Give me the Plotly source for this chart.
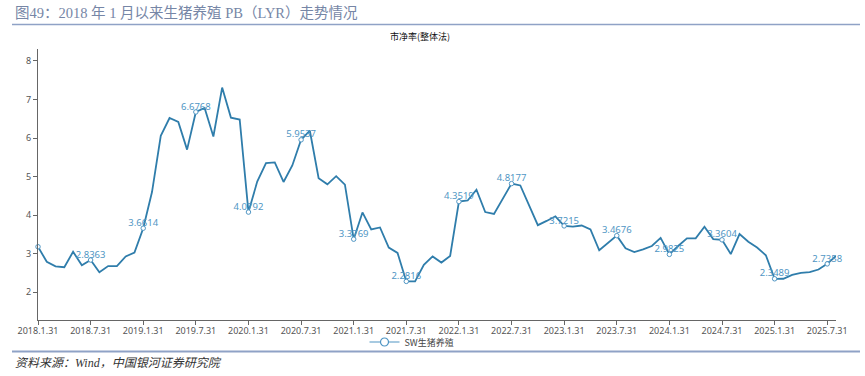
import plotly.graph_objects as go
import pandas as pd

# ---- data ----
dates = [d.strftime("%Y.%-m.%d") for d in pd.date_range("2018-01-31", periods=92, freq="ME")]
pb = [3.18, 2.79, 2.67, 2.65, 3.05, 2.70, 2.8363, 2.52, 2.68, 2.68, 2.93, 3.03,
      3.6614, 4.60, 6.06, 6.52, 6.42, 5.70, 6.6768, 6.78, 6.04, 7.31, 6.53, 6.48,
      4.0792, 4.87, 5.35, 5.37, 4.86, 5.29, 5.9537, 6.19, 4.96, 4.80, 5.01, 4.79,
      3.3769, 4.07, 3.63, 3.68, 3.16, 3.02, 2.2816, 2.28, 2.71, 2.93, 2.77, 2.94,
      4.3519, 4.38, 4.66, 4.08, 4.03, 4.42, 4.8177, 4.77, 4.26, 3.74, 3.85, 3.97,
      3.7215, 3.70, 3.73, 3.63, 3.09, 3.27, 3.4676, 3.14, 3.04, 3.11, 3.20, 3.41,
      2.9825, 3.20, 3.40, 3.40, 3.70, 3.38, 3.3604, 2.99, 3.51, 3.31, 3.16, 2.96,
      2.3489, 2.35, 2.45, 2.50, 2.52, 2.59, 2.7358, 2.94]
label_idx = list(range(0, 92, 6))          # Jan / Jul points carry markers
text_idx = list(range(6, 92, 6))           # points with value labels
tick_labels = [dates[i] for i in range(0, 92, 6)]
y_ticks = [2, 3, 4, 5, 6, 7, 8]
series_name = "SW生猪养殖"

LINE = "#2f7dab"
LBL = "#5096c4"

# plot-area geometry (pixels)
L, R, T, B = 38, 836, 49, 320
PW, PH = R - L, B - T

def px(x):
    return (x - L) / PW

def py(y):
    return (B - y) / PH

fig = go.Figure()
fig.add_trace(go.Scatter(
    x=dates, y=pb, mode="lines", line=dict(color=LINE, width=1.8),
    showlegend=False, hoverinfo="skip"))
fig.add_trace(go.Scatter(
    x=[dates[i] for i in label_idx], y=[pb[i] for i in label_idx],
    mode="markers", marker=dict(size=4.5, color="white", line=dict(color=LBL, width=1)),
    showlegend=False, cliponaxis=False))
fig.add_trace(go.Scatter(
    x=[dates[i] for i in text_idx], y=[pb[i] for i in text_idx],
    mode="text", text=[f"{pb[i]:.4f}" for i in text_idx], textposition="top center",
    textfont=dict(color=LBL, size=9.5, family="Noto Sans"), showlegend=False,
    cliponaxis=False))
fig.add_trace(go.Scatter(
    x=[None], y=[None], name=series_name, mode="lines+markers",
    line=dict(color=LBL, width=1.2),
    marker=dict(size=8, color="white", line=dict(color=LBL, width=1.2))))

ymin = min(pb) - 1
ymax = max(pb) + 1

fig.update_layout(
    width=865, height=376,
    margin=dict(l=L, r=865 - R, t=T, b=376 - B, autoexpand=False),
    paper_bgcolor="white", plot_bgcolor="white",
    font=dict(family="Noto Sans, Noto Sans CJK SC", size=9, color="#555"),
    xaxis=dict(type="category", range=[0, 91], tickmode="array",
               tickvals=tick_labels, ticktext=tick_labels, automargin=False,
               showline=True, linecolor="#666", linewidth=1,
               ticks="outside", ticklen=4, tickcolor="#666", ticklabelstandoff=-2,
               showgrid=False, zeroline=False, tickfont=dict(size=9, color="#555")),
    yaxis=dict(range=[ymin, ymax], tickvals=y_ticks, automargin=False,
               showline=True, linecolor="#666", linewidth=1,
               ticks="outside", ticklen=4, tickcolor="#666",
               showgrid=False, zeroline=False, tickfont=dict(size=9, color="#555")),
    legend=dict(orientation="h", x=px(412), xanchor="center", y=py(342), yanchor="middle",
                font=dict(size=9, color="#444", family="Noto Sans CJK SC"),
                bgcolor="rgba(0,0,0,0)", itemwidth=30),
    annotations=[
        dict(text="图49：2018 年 1 月以来生猪养殖 PB（LYR）走势情况", xref="paper", yref="paper",
             x=px(13), y=py(13), xanchor="left", yanchor="middle",
             showarrow=False, font=dict(family="Liberation Serif, Noto Sans CJK SC", size=14.5, color="#7686a6")),
        dict(text="市净率(整体法)", xref="paper", yref="paper",
             x=px(420), y=py(36), xanchor="center", yanchor="middle",
             showarrow=False, font=dict(family="Noto Sans CJK SC", size=9, color="#111")),
        dict(text="<i>资料来源：Wind，中国银河证券研究院</i>", xref="paper", yref="paper",
             x=px(13), y=py(363), xanchor="left", yanchor="middle",
             showarrow=False, font=dict(family="Liberation Serif, Noto Sans CJK SC", size=12, color="#333")),
    ],
)
fig.add_shape(type="line", xref="paper", yref="paper", x0=px(12), x1=px(860),
              y0=py(24.5), y1=py(24.5), line=dict(color="#8fa2c6", width=1.5))
fig.add_shape(type="line", xref="paper", yref="paper", x0=px(12), x1=px(860),
              y0=py(351.5), y1=py(351.5), line=dict(color="#8fa2c6", width=2))

fig.write_html("out.html", config={"displayModeBar": False},
               post_script="document.body.style.margin='0';document.body.style.overflow='hidden';")
